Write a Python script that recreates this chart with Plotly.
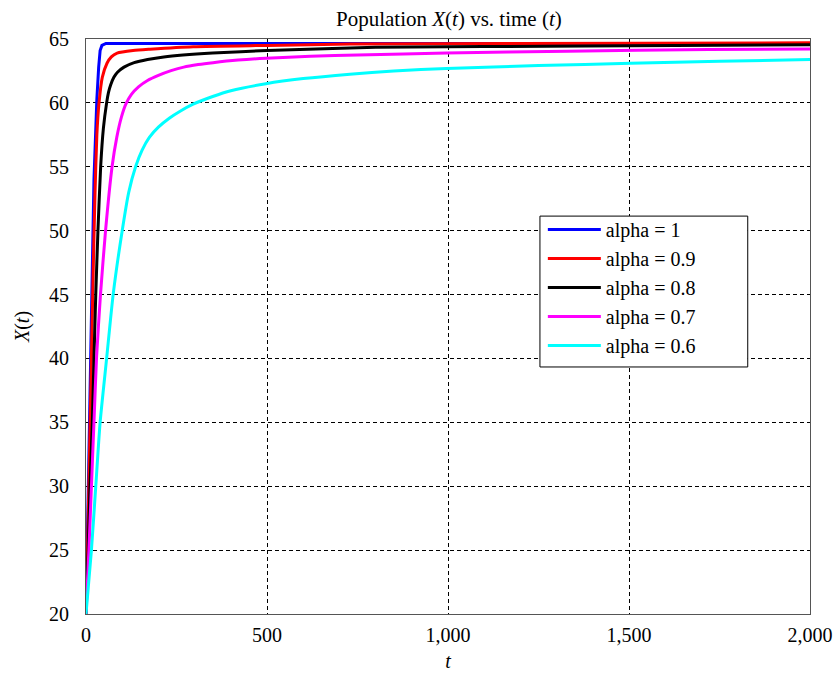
import plotly.graph_objects as go

# Population X(t) over time for several fractional orders alpha
t_a10 = [0, 5, 10, 14, 18, 22, 26, 30, 35, 39, 44, 55, 200, 1000, 2000]
x_a10 = [20, 27, 34, 41, 48, 54, 58, 60.3, 62.8, 64.1, 64.5, 64.65, 64.65, 64.65, 64.65]

t_a09 = [0, 5, 10, 15, 20, 25, 30, 36, 45, 58, 70, 86, 130, 177, 296, 500, 729, 1200, 2000]
x_a09 = [20, 26, 33, 40, 47, 53, 57.5, 60, 62, 63.1, 63.6, 63.9, 64.1, 64.2, 64.4, 64.5, 64.6, 64.65, 64.7]

t_a08 = [0, 6, 11, 17.5, 22, 27, 33, 40.5, 48, 57, 62, 68, 77, 87, 105, 133, 170, 215, 350, 500, 800, 1380, 2000]
x_a08 = [20, 25, 30, 35, 40, 45, 50, 55, 58, 60, 60.8, 61.4, 62.0, 62.4, 62.8, 63.15, 63.4, 63.6, 63.9, 64.1, 64.35, 64.45, 64.55]

t_a07 = [0, 8, 15, 22, 29, 40, 54, 72, 85, 98, 110, 125, 145, 170, 200, 235, 270, 310, 351, 420, 497, 620, 750, 996, 1330, 1720, 2000]
x_a07 = [20, 25, 30, 35, 40, 45, 50, 55, 57.3, 58.9, 59.9, 60.65, 61.25, 61.75, 62.15, 62.52, 62.8, 63.0, 63.15, 63.35, 63.5, 63.65, 63.75, 63.9, 64.05, 64.17, 64.22]

t_a06 = [0, 15, 27, 39, 57, 75, 100, 118, 137, 155, 175, 200, 230, 260, 296, 350, 400, 497, 600, 729, 850, 996, 1250, 1505, 1750, 2000]
x_a06 = [20, 25, 30, 35, 40, 45, 50, 53, 55, 56.3, 57.3, 58.1, 58.8, 59.35, 59.9, 60.5, 60.95, 61.5, 61.9, 62.25, 62.5, 62.7, 62.92, 63.1, 63.25, 63.4]

series = [
    ("alpha = 1", t_a10, x_a10, "#0000FF", "linear"),
    ("alpha = 0.9", t_a09, x_a09, "#FF0000", "spline"),
    ("alpha = 0.8", t_a08, x_a08, "#000000", "spline"),
    ("alpha = 0.7", t_a07, x_a07, "#FF00FF", "spline"),
    ("alpha = 0.6", t_a06, x_a06, "#00FFFF", "spline"),
]

x_ticks = [0, 500, 1000, 1500, 2000]
y_ticks = [20, 25, 30, 35, 40, 45, 50, 55, 60, 65]

FONT = "Liberation Serif, Times New Roman, serif"

fig = go.Figure()
for name, t, x, color, shape in series:
    fig.add_trace(go.Scatter(
        x=t, y=x, mode="lines", name=name,
        line=dict(color=color, width=3, shape=shape, smoothing=0.6),
    ))

axis_common = dict(
    showline=True, mirror=True, linecolor="#555555", linewidth=1,
    showgrid=True, gridcolor="#000000", gridwidth=1, griddash="4px,3px",
    zeroline=False, ticks="", automargin=False,
    tickfont=dict(family=FONT, size=20, color="#000"),
)

# legend frame (wider than the auto-sized legend)
legend_frame = dict(
    type="rect", xref="paper", yref="paper",
    x0=0.627, x1=0.914, y0=0.4296, y1=0.692,
    line=dict(color="#000000", width=1), fillcolor="white", layer="above",
)

fig.update_layout(
    width=839, height=673,
    margin=dict(l=86, r=29, t=39, b=59),
    paper_bgcolor="white", plot_bgcolor="white",
    font=dict(family=FONT, size=20, color="#000"),
    title=dict(
        text="Population <i>X</i>(<i>t</i>) vs. time (<i>t</i>)",
        x=0.535, xanchor="center", y=0.972, yanchor="middle",
        font=dict(family=FONT, size=21, color="#000"),
    ),
    xaxis=dict(
        range=[0, 2000], tickvals=x_ticks, tickformat=",d",
        ticklabelstandoff=3,
        title=dict(text="<i>t</i>", standoff=8, font=dict(family=FONT, size=20)),
        **axis_common,
    ),
    yaxis=dict(
        range=[20, 65], tickvals=y_ticks,
        ticklabelstandoff=12,
        title=dict(text="<i>X</i>(<i>t</i>)", standoff=14, font=dict(family=FONT, size=20)),
        **axis_common,
    ),
    shapes=[legend_frame],
    legend=dict(
        x=0.631, y=0.7026, xanchor="left", yanchor="top",
        bgcolor="rgba(0,0,0,0)", borderwidth=0,
        font=dict(family=FONT, size=20, color="#000"),
        itemwidth=53, tracegroupgap=0,
    ),
)

fig.write_html("out.html")
